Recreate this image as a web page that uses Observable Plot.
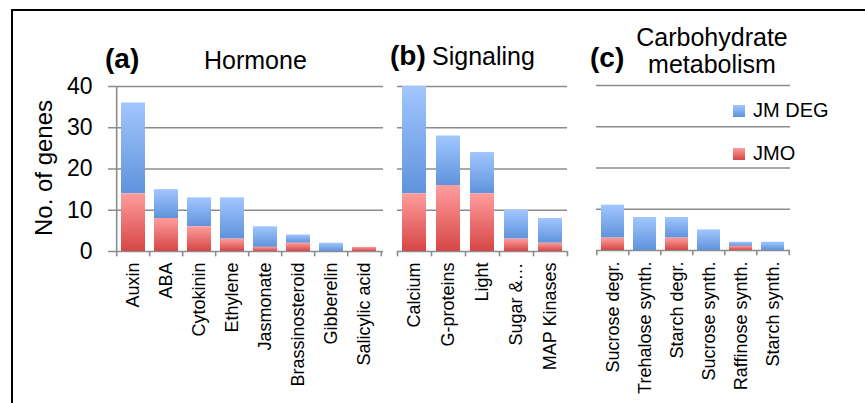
<!DOCTYPE html>
<html><head><meta charset="utf-8">
<script src="https://cdn.jsdelivr.net/npm/d3@7"></script>
<script src="https://cdn.jsdelivr.net/npm/@observablehq/plot@0.6"></script>
<style>
html,body{margin:0;padding:0;background:#fff;}
#root{position:relative;width:865px;height:403px;overflow:hidden;font-family:"Liberation Sans",Arial,sans-serif;color:#000;}
#root svg{position:absolute;left:0;top:0;}
.t{position:absolute;white-space:nowrap;line-height:1;}
.sw{position:absolute;width:12px;height:12px;}
#frame{position:absolute;left:11px;top:9px;width:860px;height:400px;border-top:2px solid #000;border-left:2px solid #000;}
</style></head><body>
<svg width="0" height="0" style="position:absolute">
  <defs>
    <linearGradient id="gBlue" x1="0" y1="0" x2="0" y2="1">
      <stop offset="0" stop-color="#a2c6ff"/>
      <stop offset="1" stop-color="#5f93dc"/>
    </linearGradient>
    <linearGradient id="gRed" x1="0" y1="0" x2="0" y2="1">
      <stop offset="0" stop-color="#ff9d9d"/>
      <stop offset="1" stop-color="#d64646"/>
    </linearGradient>
  </defs>
</svg>
<div id="root"><div id="frame"></div></div>
<script>
// ---- data ----
const hormoneCats = ["Auxin","ABA","Cytokinin","Ethylene","Jasmonate","Brassinosteroid","Gibberelin","Salicylic acid"];
const hormoneDEG  = [36, 15, 13, 13, 6, 4, 2, 1];
const hormoneJMO  = [14, 8, 6, 3, 1, 2, 0, 1];

const signalingCats = ["Calcium","G-proteins","Light","Sugar &\u2026","MAP Kinases"];
const signalingDEG  = [40, 28, 24, 10, 8];
const signalingJMO  = [14, 16, 14, 3, 2];

const carbCats = ["Sucrose degr.","Trehalose synth.","Starch degr.","Sucrose synth.","Raffinose synth.","Starch synth."];
const carbDEG  = [11, 8, 8, 5, 2, 2];
const carbJMO  = [3, 0, 3, 0, 1, 0];

const yTicks = [0, 10, 20, 30, 40];
const seriesNames = ["JM DEG", "JMO"];

// ---- drawing ----
const W = 865, H = 403;
const gridColor = "#8c8c8c";
const root = document.getElementById("root");

function panel(cats, deg, jmo, {left, right, top, bottom, yAxis}) {
  const rows = cats.map((c, i) => ({cat: c, deg: deg[i], jmo: jmo[i]}));
  const step = (right - left) / cats.length;
  const last = cats[cats.length - 1];
  const marks = [
    Plot.ruleY(yTicks, {stroke: gridColor, strokeWidth: 1.6, insetLeft: yAxis ? -6 : 0}),
    Plot.barY(rows, {x: "cat", y1: "jmo", y2: "deg", fill: "url(#gBlue)"}),
    Plot.barY(rows, {x: "cat", y1: 0, y2: "jmo", fill: "url(#gRed)"}),
    Plot.ruleX(cats, {x: d => d, dx: -step / 2, y1: 0, y2: -1.3, stroke: gridColor, strokeWidth: 1.6}),
    Plot.ruleX([last], {x: d => d, dx: step / 2, y1: 0, y2: -1.3, stroke: gridColor, strokeWidth: 1.6}),
    Plot.axisX({tickRotate: -90, tickSize: 0, tickPadding: 11, fontSize: 18, label: null})
  ];
  if (yAxis) {
    marks.push(
      Plot.ruleX([cats[0]], {x: d => d, dx: -step / 2, y1: 0, y2: 40, stroke: gridColor, strokeWidth: 1.6}),
      Plot.axisY({ticks: yTicks, tickSize: 0, tickPadding: 22, fontSize: 23, label: null})
    );
  }
  const svg = Plot.plot({
    width: W, height: H,
    marginLeft: left, marginRight: W - right, marginTop: top, marginBottom: H - bottom,
    x: {domain: cats, paddingInner: 0.28, paddingOuter: 0.14},
    y: yAxis ? {domain: [0, 40]} : {domain: [0, 40], axis: null},
    style: {background: "none", overflow: "visible", fontFamily: "'Liberation Sans', Arial, sans-serif", color: "#000"},
    marks
  });
  root.appendChild(svg);
}

panel(hormoneCats, hormoneDEG, hormoneJMO, {left: 114, right: 383, top: 86, bottom: 251, yAxis: true});
panel(signalingCats, signalingDEG, signalingJMO, {left: 397, right: 567, top: 86, bottom: 251, yAxis: false});
panel(carbCats, carbDEG, carbJMO, {left: 596, right: 790, top: 85, bottom: 250, yAxis: false});

// ---- text: titles, legend, y label ----
function addText(str, x, baseline, size, {bold = false, center = false} = {}) {
  const d = document.createElement("div");
  d.className = "t";
  d.textContent = str;
  d.style.fontSize = size + "px";
  if (bold) d.style.fontWeight = "bold";
  d.style.left = x + "px";
  d.style.top = (baseline - 0.8465 * size) + "px";
  if (center) d.style.transform = "translateX(-50%)";
  root.appendChild(d);
}
addText("(a)", 105, 69, 28, {bold: true});
addText("Hormone", 204, 69, 25);
addText("(b)", 390, 66, 28, {bold: true});
addText("Signaling", 432, 65, 25);
addText("(c)", 590, 68, 28, {bold: true});
addText("Carbohydrate", 712, 46, 25, {center: true});
addText("metabolism", 712, 73, 25, {center: true});

// legend
const swatches = ["linear-gradient(#a2c6ff,#5f93dc)", "linear-gradient(#ff9d9d,#d64646)"];
const legendBase = [117, 160];
seriesNames.forEach((name, i) => {
  const s = document.createElement("div");
  s.className = "sw";
  s.style.left = "733px";
  s.style.top = (legendBase[i] - 12) + "px";
  s.style.background = swatches[i];
  root.appendChild(s);
  addText(name, 753, legendBase[i], 20);
});

// y label
const yl = document.createElement("div");
yl.className = "t";
yl.textContent = "No. of genes";
yl.style.fontSize = "24px";
yl.style.left = "44px";
yl.style.top = "168px";
yl.style.transform = "translate(-50%,-50%) rotate(-90deg)";
root.appendChild(yl);
</script>
</body></html>
